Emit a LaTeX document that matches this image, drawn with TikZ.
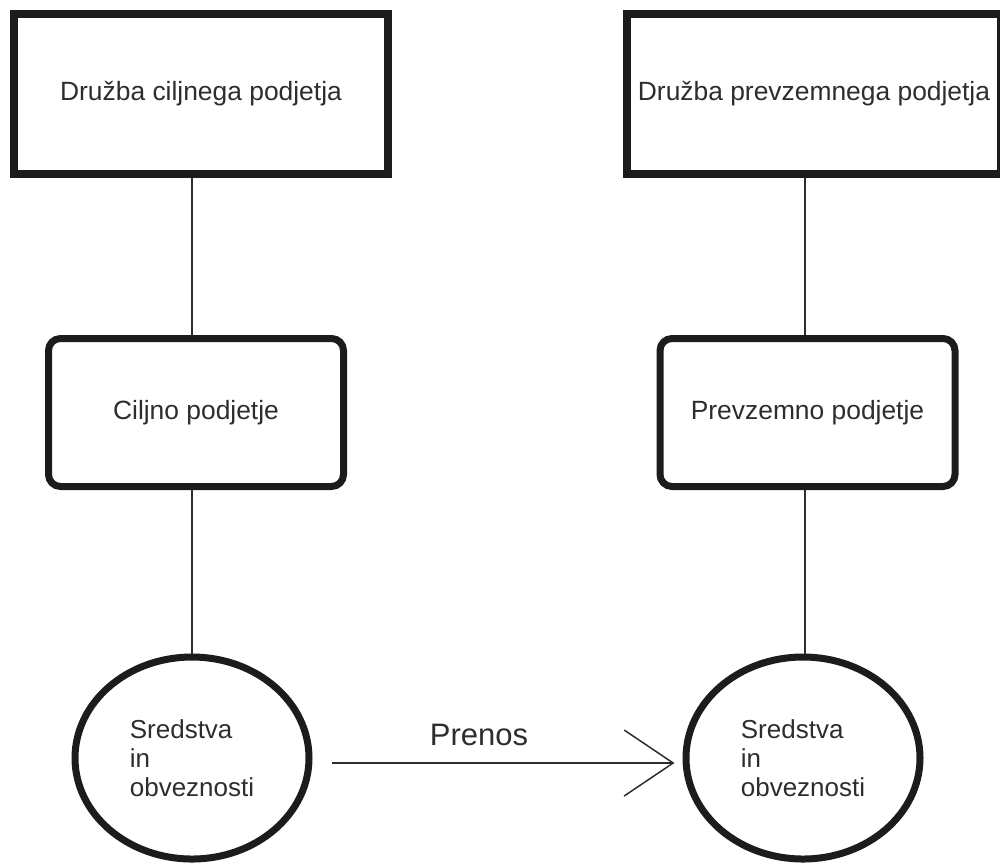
\documentclass[tikz,border=0pt]{standalone}
\usepackage{fontspec}
\setmainfont{Liberation Sans}
\usetikzlibrary{positioning, arrows.meta, shapes.geometric}
\definecolor{inkdark}{RGB}{28,28,28}
\definecolor{textgray}{RGB}{45,45,45}

\begin{document}
\begin{tikzpicture}[x=0.5pt, y=-0.5pt,
    parentbox/.style={draw=inkdark, line width=4pt, minimum width=187pt, minimum height=80pt,
        inner sep=0pt, text=textgray, font=\fontsize{13.2}{15}\selectfont},
    companybox/.style={draw=inkdark, line width=3.5pt, rounded corners=6pt, minimum width=147.5pt,
        minimum height=74pt, inner sep=0pt, text=textgray, font=\fontsize{13.2}{15}\selectfont},
    assetnode/.style={draw=inkdark, line width=3.5pt, ellipse, minimum width=117pt, minimum height=101pt,
        inner sep=0pt, align=left, text=textgray, font=\fontsize{13}{14.5}\selectfont},
    link/.style={draw=textgray, line width=0.75pt}]
    \useasboundingbox (0,0) rectangle (1000,864);
    \clip (0,0) rectangle (1000,864);

    % Parent companies
    \node[parentbox] (parentL) at (201,94) {Družba ciljnega podjetja};
    \node[parentbox] (parentR) at (814,94) {Družba prevzemnega podjetja};

    % Companies
    \node[companybox] (targetco) at (196,412.5) {Ciljno podjetje};
    \node[companybox] (buyerco) at (807.5,412.5) {Prevzemno podjetje};

    % Assets and liabilities
    \node[assetnode] (assetsL) at (192,758) {Sredstva\\in\\obveznosti};
    \node[assetnode] (assetsR) at (803,758) {Sredstva\\in\\obveznosti};

    % Ownership lines
    \draw[link] (parentL.south -| assetsL.north) -- (targetco.north -| assetsL.north);
    \draw[link] (targetco.south -| assetsL.north) -- (assetsL.north);
    \draw[link] (parentR.south -| 805,0) -- (buyerco.north -| 805,0);
    \draw[link] (buyerco.south -| 805,0) -- (assetsR.north -| 805,0);

    % Transfer
    \draw[link, -{Straight Barb[length=24.5pt, width=33pt]}]
        ([xshift=9.5pt, yshift=-2.5pt]assetsL.east) --
        node[pos=0.43, above=8pt, inner sep=0pt, text=textgray, font=\fontsize{15.5}{18}\selectfont] (transfer) {Prenos}
        ([xshift=-4pt, yshift=-2.5pt]assetsR.west);
\end{tikzpicture}
\end{document}
